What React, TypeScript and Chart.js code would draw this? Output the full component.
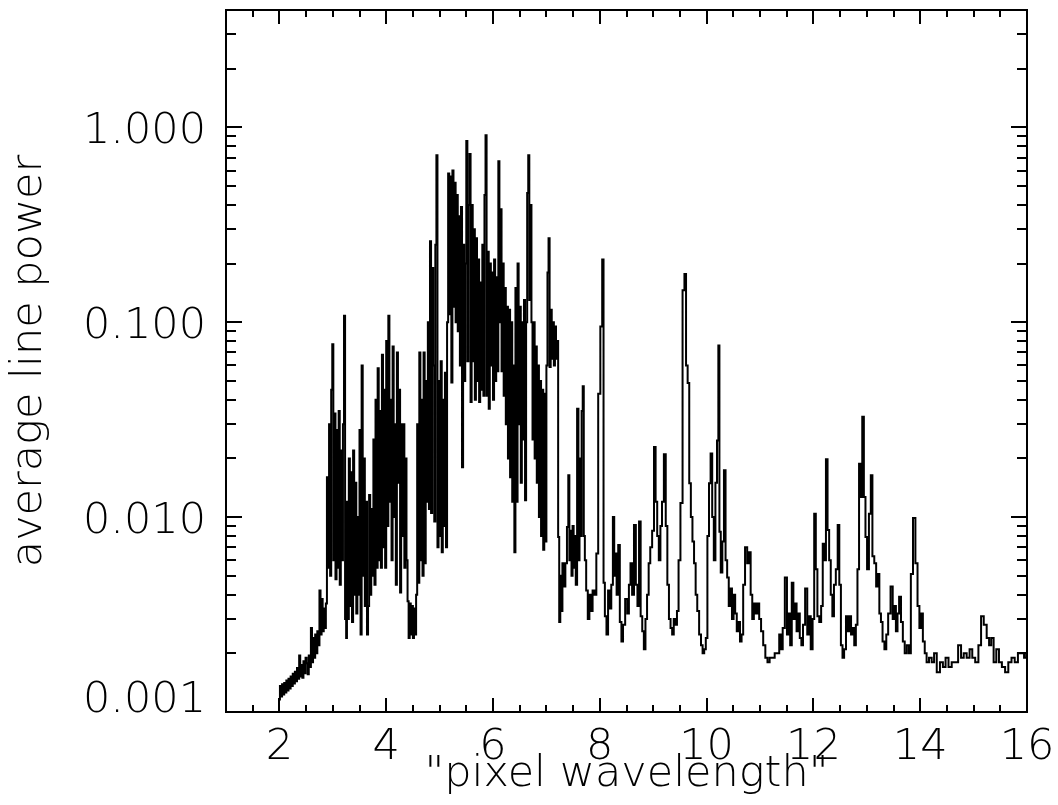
import React, { useEffect, useRef } from "react";
import { Chart, registerables } from "chart.js";

Chart.register(...registerables);

// ---- data: [pixel wavelength, average line power] ----
const risePoints: [number, number][] = [
  [2.0, 0.00116], [2.02, 0.00136], [2.04, 0.0012], [2.06, 0.00139], [2.08, 0.00123],
  [2.1, 0.00141], [2.12, 0.00126], [2.14, 0.00145], [2.16, 0.00129], [2.18, 0.00148],
  [2.2, 0.00132], [2.22, 0.00152], [2.24, 0.00136], [2.26, 0.00157], [2.28, 0.0014],
  [2.3, 0.00161], [2.32, 0.00144], [2.34, 0.00168], [2.36, 0.00148], [2.38, 0.00195],
  [2.4, 0.00152], [2.42, 0.00174], [2.44, 0.0015], [2.46, 0.00182], [2.48, 0.00158],
  [2.5, 0.0019], [2.52, 0.00178], [2.54, 0.00156], [2.56, 0.00195], [2.58, 0.0017],
  [2.6, 0.0027], [2.62, 0.0018], [2.64, 0.0024], [2.66, 0.0019], [2.68, 0.0025],
  [2.7, 0.002], [2.72, 0.0026], [2.74, 0.0022], [2.76, 0.0042], [2.78, 0.0025],
  [2.8, 0.0038], [2.82, 0.0026], [2.84, 0.0034], [2.86, 0.0027], [2.88, 0.0036],
];

const burstPoints: [number, number][] = [
  [2.9, 0.016], [2.92, 0.0055], [2.94, 0.03], [2.96, 0.005], [2.98, 0.045],
  [3.0, 0.077], [3.02, 0.006], [3.04, 0.034], [3.06, 0.0048], [3.08, 0.028],
  [3.1, 0.0055], [3.12, 0.035], [3.14, 0.0045], [3.16, 0.022], [3.18, 0.006],
  [3.2, 0.03], [3.22, 0.108], [3.24, 0.003], [3.26, 0.0024], [3.27, 0.012],
  [3.29, 0.003], [3.31, 0.02], [3.33, 0.0035], [3.35, 0.017], [3.37, 0.0029],
  [3.39, 0.022], [3.41, 0.004], [3.43, 0.015], [3.45, 0.0032], [3.47, 0.01],
  [3.49, 0.004], [3.51, 0.028], [3.53, 0.0025], [3.55, 0.06], [3.57, 0.005],
  [3.59, 0.02], [3.61, 0.0035], [3.63, 0.012], [3.65, 0.0025], [3.67, 0.0035],
  [3.69, 0.013], [3.71, 0.004], [3.73, 0.011], [3.75, 0.005], [3.77, 0.025],
  [3.79, 0.0045], [3.81, 0.04], [3.83, 0.0055], [3.85, 0.058], [3.87, 0.006],
  [3.89, 0.035], [3.91, 0.0055], [3.93, 0.068], [3.95, 0.007], [3.97, 0.045],
  [3.99, 0.0055], [4.01, 0.08], [4.03, 0.009], [4.05, 0.108], [4.07, 0.012],
  [4.09, 0.04], [4.11, 0.006], [4.13, 0.075], [4.15, 0.01], [4.17, 0.03],
  [4.19, 0.0045], [4.21, 0.07], [4.23, 0.015], [4.25, 0.045], [4.27, 0.0041],
  [4.29, 0.03], [4.31, 0.008], [4.33, 0.03], [4.35, 0.0055], [4.37, 0.02],
  [4.39, 0.006], [4.41, 0.0037], [4.43, 0.0024], [4.45, 0.0036], [4.47, 0.0025],
  [4.49, 0.0035], [4.51, 0.0024], [4.53, 0.0034], [4.55, 0.0025], [4.57, 0.004],
  [4.59, 0.03], [4.61, 0.0046], [4.63, 0.07], [4.65, 0.006], [4.67, 0.04],
  [4.69, 0.005], [4.71, 0.07], [4.73, 0.0058], [4.75, 0.05], [4.77, 0.012],
  [4.79, 0.1], [4.81, 0.011], [4.83, 0.26], [4.85, 0.0105], [4.87, 0.19],
  [4.89, 0.06], [4.91, 0.0095], [4.93, 0.25], [4.95, 0.72], [4.97, 0.007],
  [4.99, 0.05], [5.01, 0.008], [5.03, 0.063], [5.05, 0.0066], [5.07, 0.04],
  [5.09, 0.009], [5.11, 0.055], [5.13, 0.007], [5.15, 0.1], [5.17, 0.58],
  [5.19, 0.11], [5.21, 0.56], [5.23, 0.049], [5.25, 0.6], [5.27, 0.12],
  [5.29, 0.52], [5.31, 0.1], [5.33, 0.45], [5.35, 0.09], [5.37, 0.35],
  [5.39, 0.06], [5.41, 0.39], [5.43, 0.018], [5.45, 0.25], [5.47, 0.05],
  [5.49, 0.2], [5.51, 0.85], [5.53, 0.063], [5.55, 0.4], [5.57, 0.73],
  [5.59, 0.039], [5.61, 0.4], [5.63, 0.063], [5.65, 0.3], [5.67, 0.04],
  [5.69, 0.27], [5.71, 0.05], [5.73, 0.21], [5.75, 0.039], [5.77, 0.16],
  [5.79, 0.045], [5.81, 0.25], [5.83, 0.042], [5.85, 0.45], [5.87, 0.91],
  [5.89, 0.042], [5.91, 0.23], [5.93, 0.036], [5.95, 0.2], [5.97, 0.06],
  [5.99, 0.18], [6.01, 0.04], [6.03, 0.21], [6.05, 0.05], [6.07, 0.17],
  [6.09, 0.056], [6.11, 0.67], [6.13, 0.1], [6.15, 0.38], [6.17, 0.056],
  [6.19, 0.2], [6.21, 0.042], [6.23, 0.15], [6.25, 0.03], [6.27, 0.12],
  [6.29, 0.02], [6.31, 0.116], [6.33, 0.016], [6.35, 0.1], [6.37, 0.012],
  [6.39, 0.06], [6.41, 0.0066], [6.43, 0.15], [6.45, 0.012], [6.47, 0.2],
  [6.49, 0.03], [6.51, 0.12], [6.53, 0.015], [6.55, 0.1], [6.57, 0.025],
  [6.59, 0.13], [6.61, 0.0122], [6.63, 0.1], [6.65, 0.46], [6.67, 0.72],
  [6.69, 0.13], [6.71, 0.4], [6.73, 0.1], [6.75, 0.025], [6.77, 0.1],
  [6.79, 0.02], [6.81, 0.075], [6.83, 0.015], [6.85, 0.06], [6.87, 0.01],
  [6.89, 0.05], [6.91, 0.008], [6.93, 0.045], [6.95, 0.0068], [6.97, 0.043],
  [6.99, 0.0075], [7.01, 0.06], [7.03, 0.18], [7.05, 0.27], [7.07, 0.059],
  [7.09, 0.116], [7.11, 0.065], [7.13, 0.1], [7.15, 0.06], [7.17, 0.095],
  [7.19, 0.065], [7.21, 0.08], [7.23, 0.0079], [7.25, 0.0029], [7.27, 0.005],
  [7.29, 0.0033], [7.31, 0.0058],
];

const tailPoints: [number, number][] = [
  [7.34, 0.0044], [7.37, 0.0058], [7.4, 0.0089], [7.42, 0.0164], [7.44, 0.006],
  [7.46, 0.0085], [7.48, 0.005], [7.5, 0.009], [7.52, 0.0055], [7.54, 0.008],
  [7.56, 0.0045], [7.59, 0.036], [7.61, 0.006], [7.63, 0.02], [7.65, 0.008],
  [7.67, 0.035], [7.69, 0.047], [7.71, 0.008], [7.73, 0.006], [7.76, 0.0042],
  [7.79, 0.003], [7.82, 0.004], [7.85, 0.0033], [7.88, 0.0042], [7.92, 0.004],
  [7.95, 0.0065], [7.99, 0.043], [8.03, 0.095], [8.06, 0.21], [8.08, 0.0046],
  [8.11, 0.0031], [8.14, 0.0025], [8.17, 0.0042], [8.2, 0.0034], [8.23, 0.0045],
  [8.26, 0.01], [8.28, 0.005], [8.3, 0.0065], [8.33, 0.004], [8.36, 0.0072],
  [8.39, 0.0029], [8.42, 0.0023], [8.45, 0.0028], [8.5, 0.0038], [8.53, 0.0032],
  [8.56, 0.0045], [8.59, 0.0058], [8.62, 0.004], [8.66, 0.0091], [8.69, 0.0045],
  [8.72, 0.0035], [8.75, 0.0095], [8.78, 0.0031], [8.81, 0.0026], [8.84, 0.0021],
  [8.87, 0.003], [8.9, 0.004], [8.93, 0.0058], [8.96, 0.007], [9.0, 0.0085],
  [9.03, 0.0229], [9.06, 0.012], [9.09, 0.008], [9.12, 0.006], [9.15, 0.009],
  [9.18, 0.012], [9.22, 0.021], [9.25, 0.009], [9.28, 0.0045], [9.31, 0.003],
  [9.34, 0.0027], [9.37, 0.0025], [9.4, 0.003], [9.43, 0.0028], [9.46, 0.0033],
  [9.49, 0.006], [9.53, 0.0118], [9.57, 0.146], [9.6, 0.177], [9.63, 0.06],
  [9.66, 0.0487], [9.69, 0.0149], [9.72, 0.01], [9.75, 0.0075], [9.78, 0.0058],
  [9.81, 0.004], [9.84, 0.0033], [9.88, 0.0025], [9.91, 0.0022], [9.94, 0.002],
  [9.97, 0.0021], [10.0, 0.0024], [10.03, 0.008], [10.06, 0.0149], [10.09, 0.0212],
  [10.12, 0.01], [10.15, 0.006], [10.18, 0.015], [10.21, 0.0247], [10.23, 0.076],
  [10.25, 0.0084], [10.28, 0.0052], [10.31, 0.0075], [10.34, 0.0174], [10.37, 0.006],
  [10.4, 0.0049], [10.43, 0.0035], [10.46, 0.0043], [10.49, 0.003], [10.52, 0.004],
  [10.55, 0.0032], [10.58, 0.0026], [10.61, 0.0029], [10.64, 0.0023], [10.67, 0.0025],
  [10.7, 0.0045], [10.74, 0.007], [10.78, 0.0058], [10.81, 0.0066], [10.84, 0.004],
  [10.87, 0.003], [10.9, 0.0036], [10.94, 0.0032], [10.97, 0.0036], [11.0, 0.003],
  [11.04, 0.0026], [11.08, 0.0022], [11.12, 0.0019], [11.16, 0.0018], [11.2, 0.0019],
  [11.25, 0.0019], [11.3, 0.002], [11.34, 0.002], [11.38, 0.0025], [11.41, 0.0021],
  [11.44, 0.0027], [11.49, 0.0049], [11.52, 0.0025], [11.55, 0.0032], [11.58, 0.0022],
  [11.61, 0.0046], [11.64, 0.003], [11.67, 0.0036], [11.7, 0.0026], [11.73, 0.0032],
  [11.76, 0.0024], [11.79, 0.0022], [11.82, 0.0028], [11.87, 0.0043], [11.9, 0.0025],
  [11.93, 0.0031], [11.97, 0.0021], [12.0, 0.003], [12.03, 0.0104], [12.06, 0.0054],
  [12.09, 0.0031], [12.13, 0.0029], [12.16, 0.0035], [12.19, 0.0073], [12.22, 0.006],
  [12.25, 0.0198], [12.28, 0.0086], [12.31, 0.006], [12.34, 0.004], [12.37, 0.0031],
  [12.4, 0.0045], [12.44, 0.0054], [12.47, 0.0091], [12.5, 0.0045], [12.53, 0.0022],
  [12.56, 0.0019], [12.59, 0.0021], [12.63, 0.0031], [12.66, 0.0026], [12.69, 0.0031],
  [12.72, 0.0025], [12.75, 0.0027], [12.78, 0.0022], [12.81, 0.0028], [12.84, 0.0054],
  [12.87, 0.0188], [12.9, 0.0127], [12.93, 0.0327], [12.96, 0.0127], [12.99, 0.0079],
  [13.02, 0.0054], [13.06, 0.0104], [13.09, 0.0164], [13.12, 0.0063], [13.16, 0.0058],
  [13.19, 0.0044], [13.22, 0.0051], [13.25, 0.0032], [13.28, 0.0029], [13.31, 0.0023],
  [13.35, 0.0021], [13.38, 0.0025], [13.42, 0.0032], [13.47, 0.0044], [13.5, 0.003],
  [13.53, 0.0035], [13.56, 0.0026], [13.59, 0.0032], [13.62, 0.0039], [13.66, 0.0029],
  [13.69, 0.0023], [13.73, 0.002], [13.77, 0.0022], [13.81, 0.002], [13.84, 0.0051],
  [13.89, 0.0099], [13.93, 0.0058], [13.97, 0.0035], [14.0, 0.0027], [14.03, 0.0032],
  [14.07, 0.0023], [14.1, 0.002], [14.14, 0.0018], [14.19, 0.0019], [14.24, 0.0018],
  [14.28, 0.002], [14.34, 0.0016], [14.4, 0.0018], [14.45, 0.0017], [14.5, 0.0019],
  [14.56, 0.0017], [14.62, 0.0018], [14.68, 0.0018], [14.74, 0.0022], [14.79, 0.0019],
  [14.84, 0.002], [14.9, 0.0019], [14.95, 0.0021], [15.0, 0.0019], [15.06, 0.0018],
  [15.12, 0.0022], [15.16, 0.0031], [15.22, 0.0028], [15.27, 0.0024], [15.31, 0.0022],
  [15.35, 0.0024], [15.4, 0.0018], [15.45, 0.0021], [15.5, 0.0018], [15.56, 0.0017],
  [15.62, 0.0016], [15.68, 0.0018], [15.74, 0.0019], [15.8, 0.0018], [15.86, 0.002],
  [15.92, 0.002], [15.97, 0.0019], [16.0, 0.002],
];

const xTickValues = [2, 4, 6, 8, 10, 12, 14, 16];
const yTickValues = [0.001, 0.01, 0.1, 1];
const xRange = [1, 16];
const yRange = [0.001, 4];
const xMinorStep = 0.5;
const xTitle = '"pixel wavelength"';
const yTitle = "average line power";

const FONT_FAMILY = '"DejaVu Sans", "Liberation Sans", sans-serif';
const FONT_SIZE = 43;
const FONT_WEIGHT = "200";

const idlFramePlugin = {
  id: "idlFrame",
  afterDraw(chart: any) {
    const { ctx, chartArea: a, scales } = chart;
    const xs = scales.x;
    const ys = scales.y;
    ctx.save();
    ctx.strokeStyle = "#000";
    ctx.lineWidth = 2;
    ctx.strokeRect(a.left, a.top, a.right - a.left, a.bottom - a.top);
    ctx.beginPath();
    for (let v = xRange[0]; v <= xRange[1] + 1e-9; v += xMinorStep) {
      const px = Math.round(xs.getPixelForValue(v));
      const major = xTickValues.some((t) => Math.abs(t - v) < 1e-6);
      const len = major ? 14 : 7;
      ctx.moveTo(px, a.bottom);
      ctx.lineTo(px, a.bottom - len);
      ctx.moveTo(px, a.top);
      ctx.lineTo(px, a.top + len);
    }
    yTickValues.forEach((d) => {
      for (let m = 1; m <= 9; m++) {
        const v = d * m;
        if (v >= yRange[1] - 1e-12) break;
        const py = Math.round(ys.getPixelForValue(v));
        const len = m === 1 ? 16 : 10;
        ctx.moveTo(a.left, py);
        ctx.lineTo(a.left + len, py);
        ctx.moveTo(a.right, py);
        ctx.lineTo(a.right - len, py);
      }
    });
    ctx.stroke();

    ctx.fillStyle = "#000";
    ctx.font = `${FONT_WEIGHT} ${FONT_SIZE}px ${FONT_FAMILY}`;
    ctx.textAlign = "right";
    ctx.textBaseline = "alphabetic";
    const capHalf = FONT_SIZE * 0.365;
    yTickValues.forEach((v) => {
      const py = ys.getPixelForValue(v);
      const label = v.toFixed(3);
      const base = py + capHalf > a.bottom ? a.bottom : py + capHalf;
      ctx.fillText(label, a.left - 20, base);
    });
    ctx.restore();
  },
};

export default function App() {
  const canvasRef = useRef<HTMLCanvasElement | null>(null);

  useEffect(() => {
    const canvas = canvasRef.current;
    if (!canvas) return;
    const allPoints = [...risePoints, ...burstPoints, ...tailPoints].map(([x, y]) => ({ x, y }));
    const font = { family: FONT_FAMILY, size: FONT_SIZE, weight: FONT_WEIGHT as any };

    const bg = {
      id: "whiteBg",
      beforeDraw(c: any) {
        const ctx = c.ctx;
        ctx.save();
        ctx.fillStyle = "#ffffff";
        ctx.fillRect(0, 0, c.width, c.height);
        ctx.restore();
      },
    };

    const chart = new Chart(canvas, {
      type: "line",
      data: {
        datasets: [
          {
            data: allPoints,
            borderColor: "#000",
            borderWidth: 2,
            pointRadius: 0,
            fill: false,
            stepped: "middle",
            tension: 0,
          },
        ],
      },
      options: {
        responsive: false,
        animation: false,
        devicePixelRatio: 1,
        layout: { padding: { left: 0, right: 31, top: 10, bottom: 0 } },
        plugins: {
          legend: { display: false },
          tooltip: { enabled: false },
        },
        scales: {
          x: {
            type: "linear",
            min: xRange[0],
            max: xRange[1],
            grid: { display: false },
            border: { display: false },
            afterBuildTicks: (s: any) => {
              s.ticks = xTickValues.map((v) => ({ value: v }));
            },
            afterFit: (s: any) => {
              s.height = 93;
            },
            ticks: {
              color: "#000",
              font,
              padding: 2,
              maxRotation: 0,
              autoSkip: false,
              callback: (v: any) => String(v),
            },
            title: {
              display: true,
              text: xTitle,
              color: "#000",
              font,
              padding: { top: 0, bottom: 4 },
            },
          },
          y: {
            type: "logarithmic",
            min: yRange[0],
            max: yRange[1],
            grid: { display: false },
            border: { display: false },
            afterBuildTicks: (s: any) => {
              s.ticks = yTickValues.map((v) => ({ value: v }));
            },
            afterFit: (s: any) => {
              s.width = 226;
            },
            ticks: { display: false },
            title: {
              display: true,
              text: yTitle,
              color: "#000",
              font,
              padding: { top: 4, bottom: 0 },
            },
          },
        },
      },
      plugins: [bg, idlFramePlugin],
    });
    return () => chart.destroy();
  }, []);

  return (
    <div style={{ position: "absolute", left: 0, top: 0, width: 1058, height: 805 }}>
      <canvas ref={canvasRef} width={1058} height={805} style={{ display: "block" }} />
    </div>
  );
}
